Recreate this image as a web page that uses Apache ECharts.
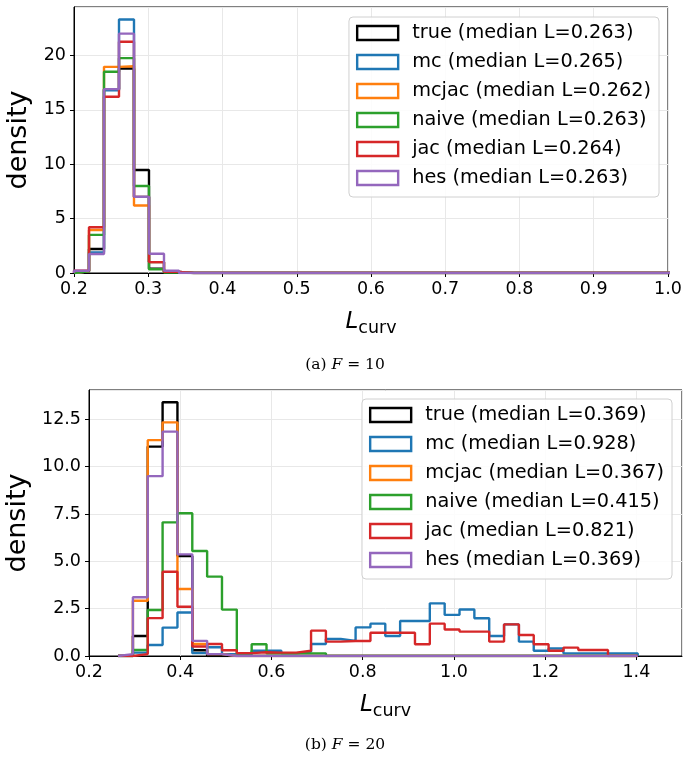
<!DOCTYPE html>
<html>
<head>
<meta charset="utf-8">
<script src="https://cdn.jsdelivr.net/npm/echarts@6/dist/echarts.min.js"></script>
<style>
  html, body { margin: 0; padding: 0; background: #fff; }
  #chart { width: 690px; height: 762px; }
</style>
</head>
<body>
<div id="chart"></div>
<script>
const names = ['true', 'mc', 'mcjac', 'naive', 'jac', 'hes'];
const colors = ['#000000', '#1f77b4', '#ff7f0e', '#2ca02c', '#d62728', '#9467bd'];

// (a) F = 10
const topMedians = ['0.263', '0.265', '0.262', '0.263', '0.264', '0.263'];
const topBinStart = 0.2;
const topBinWidth = 0.0202;
const topBinCount = 40;
const topTrue = [0.15, 2.2, 16.9, 18.8, 9.47, 0.4, 0.1];
const topMc = [0.15, 1.9, 16.8, 23.3, 7.0, 1.0, 0.1];
const topMcjac = [0.15, 3.95, 18.95, 19.0, 6.2, 1.0, 0.1];
const topNaive = [0.15, 3.5, 18.5, 19.75, 8.0, 0.35, 0.05];
const topJac = [0.2, 4.2, 16.2, 21.25, 7.0, 1.0, 0.1];
const topHes = [0.2, 1.75, 16.9, 22.0, 7.0, 1.77, 0.2];

// (b) F = 20
const botMedians = ['0.369', '0.928', '0.367', '0.415', '0.821', '0.369'];
const botBinStart = 0.2637;
const botBinWidth = 0.032546;
const botBinCount = 35;
const botTrue = [0, 1.06, 11.06, 13.4, 5.28, 0.3, 0, 0, 0, 0, 0, 0, 0, 0, 0, 0, 0, 0, 0, 0, 0, 0, 0, 0, 0, 0, 0, 0, 0, 0, 0, 0, 0, 0, 0];
const botMc = [0, 0.18, 0.58, 1.5, 2.3, 0.15, 0.46, 0.1, 0.05, 0.28, 0.28, 0.14, 0.23, 0.63, 0.9, 0.8, 1.51, 1.71, 1.06, 1.85, 1.85, 2.78, 2.17, 2.46, 1.99, 1.06, 1.67, 0.76, 0.28, 0.4, 0.14, 0.14, 0.14, 0.14, 0.14];
const botMcjac = [0, 2.92, 11.4, 12.34, 3.54, 0.63, 0.1, 0, 0, 0, 0, 0, 0, 0, 0, 0, 0, 0, 0, 0, 0, 0, 0, 0, 0, 0, 0, 0, 0, 0, 0, 0, 0, 0, 0];
const botNaive = [0, 0.32, 2.43, 7.06, 7.54, 5.55, 4.19, 2.45, 0.14, 0.62, 0.14, 0.14, 0.14, 0.14, 0, 0, 0, 0, 0, 0, 0, 0, 0, 0, 0, 0, 0, 0, 0, 0, 0, 0, 0, 0, 0];
const botJac = [0, 0.1, 2.0, 4.45, 2.6, 0.5, 0.63, 0.3, 0.15, 0.2, 0.18, 0.18, 0.28, 1.34, 0.76, 0.79, 0.79, 1.23, 1.23, 1.23, 0.62, 1.71, 1.4, 1.29, 1.29, 0.76, 1.67, 1.11, 0.62, 0.28, 0.44, 0.32, 0.32, 0, 0];
const botHes = [0.1, 3.1, 9.5, 11.85, 5.37, 0.8, 0.1, 0, 0, 0, 0, 0, 0, 0, 0, 0, 0, 0, 0, 0, 0, 0, 0, 0, 0, 0, 0, 0, 0, 0, 0, 0, 0, 0, 0];

const topValues = [topTrue, topMc, topMcjac, topNaive, topJac, topHes];
const botValues = [botTrue, botMc, botMcjac, botNaive, botJac, botHes];

const FONT = 'DejaVu Sans';

// outline of a step histogram from bin heights
const stepLine = (start, width, count, heights) => {
    const pts = [[start, 0]];
    for (let i = 0; i < count; i++) {
        const h = i < heights.length ? heights[i] : 0;
        pts.push([start + i * width, h]);
        pts.push([start + (i + 1) * width, h]);
    }
    pts.push([start + count * width, 0]);
    return pts;
};

const makeSeries = (values, medians, start, width, count, axisIndex) => values.map((v, i) => ({
    name: `${names[i]} (median L=${medians[i]})`,
    type: 'line',
    xAxisIndex: axisIndex,
    yAxisIndex: axisIndex,
    data: stepLine(start, width, count, v),
    showSymbol: false,
    symbol: 'none',
    clip: true,
    lineStyle: { color: colors[i], width: 2.4 },
    itemStyle: { color: colors[i] },
    emphasis: { disabled: true },
}));

const makeLegend = (medians, top, right) => ({
    orient: 'vertical',
    top: top,
    right: right,
    padding: [6, 8, 9, 7],
    itemWidth: 41,
    itemHeight: 14,
    itemGap: 9,
    backgroundColor: 'rgba(255,255,255,0.85)',
    borderColor: '#d0d0d0',
    borderWidth: 1,
    borderRadius: 4,
    textStyle: { fontFamily: FONT, fontSize: 19.3, lineHeight: 20, color: '#000', padding: [0, 0, 0, 9] },
    selectedMode: false,
    data: names.map((n, i) => ({
        name: `${n} (median L=${medians[i]})`,
        icon: 'rect',
        itemStyle: { color: 'rgba(0,0,0,0)', borderColor: colors[i], borderWidth: 2.4 },
    })),
});

const axisText = { fontFamily: FONT, fontSize: 17.5, color: '#000' };
const gridLine = { show: true, lineStyle: { color: '#e8e8e8', width: 1 } };
const xName = {
    name: '{i|L}{s|curv}',
    nameLocation: 'middle',
    nameTextStyle: {
        rich: {
            i: { fontFamily: FONT, fontStyle: 'italic', fontSize: 23, color: '#000' },
            s: { fontFamily: FONT, fontSize: 17.5, color: '#000', verticalAlign: 'bottom', padding: [12, 0, 0, 0] },
        },
    },
};
const yName = { fontFamily: FONT, fontSize: 27, color: '#000' };

const chart = echarts.init(document.getElementById('chart'), null, { renderer: 'canvas' });
chart.setOption({
    animation: false,
    backgroundColor: '#fff',
    grid: [
        { left: 74, top: 7, width: 594, height: 266, outerBoundsMode: 'none', containLabel: false, show: true, borderColor: '#000', borderWidth: 1, backgroundColor: 'transparent' },
        { left: 89, top: 390, width: 593, height: 266, outerBoundsMode: 'none', containLabel: false, show: true, borderColor: '#000', borderWidth: 1, backgroundColor: 'transparent' },
    ],
    xAxis: [
        Object.assign({
            gridIndex: 0, type: 'value', min: 0.2, max: 1.0, interval: 0.1, nameGap: 34,
            axisLine: { show: true, onZero: false, lineStyle: { color: '#000' } },
            axisTick: { show: true, length: 4, lineStyle: { color: '#000' } },
            axisLabel: Object.assign({ margin: 7, formatter: (v) => v.toFixed(1) }, axisText),
            splitLine: gridLine,
        }, xName),
        Object.assign({
            gridIndex: 1, type: 'value', min: 0.2, max: 1.5, interval: 0.2, nameGap: 34,
            axisLine: { show: true, onZero: false, lineStyle: { color: '#000' } },
            axisTick: { show: true, length: 4, lineStyle: { color: '#000' } },
            axisLabel: Object.assign({ margin: 7, showMaxLabel: false, formatter: (v) => v.toFixed(1) }, axisText),
            splitLine: gridLine,
        }, xName),
    ],
    yAxis: [
        {
            gridIndex: 0, type: 'value', min: 0, max: 24.45, interval: 5,
            name: 'density', nameLocation: 'middle', nameGap: 32, nameTextStyle: yName,
            axisLine: { show: true, lineStyle: { color: '#000' } },
            axisTick: { show: true, length: 4, lineStyle: { color: '#000' } },
            axisLabel: Object.assign({ margin: 8, showMaxLabel: false }, axisText),
            splitLine: gridLine,
        },
        {
            gridIndex: 1, type: 'value', min: 0, max: 14.05, interval: 2.5,
            name: 'density', nameLocation: 'middle', nameGap: 49, nameTextStyle: yName,
            axisLine: { show: true, lineStyle: { color: '#000' } },
            axisTick: { show: true, length: 4, lineStyle: { color: '#000' } },
            axisLabel: Object.assign({ margin: 8, showMaxLabel: false, formatter: (v) => v.toFixed(1) }, axisText),
            splitLine: gridLine,
        },
    ],
    legend: [
        makeLegend(topMedians, 17, 31),
        makeLegend(botMedians, 399, 18),
    ],
    graphic: [
        {
            type: 'text', left: 'center', top: 357,
            style: {
                text: '(a) {i|F} = 10',
                fontFamily: 'DejaVu Serif', fontSize: 15.5, fill: '#000',
                rich: { i: { fontFamily: 'DejaVu Serif', fontStyle: 'italic', fontSize: 15.5 } },
            },
        },
        {
            type: 'text', left: 'center', top: 737,
            style: {
                text: '(b) {i|F} = 20',
                fontFamily: 'DejaVu Serif', fontSize: 15.5, fill: '#000',
                rich: { i: { fontFamily: 'DejaVu Serif', fontStyle: 'italic', fontSize: 15.5 } },
            },
        },
    ],
    series: [
        ...makeSeries(topValues, topMedians, topBinStart, topBinWidth, topBinCount, 0),
        ...makeSeries(botValues, botMedians, botBinStart, botBinWidth, botBinCount, 1),
    ],
});
</script>
</body>
</html>
